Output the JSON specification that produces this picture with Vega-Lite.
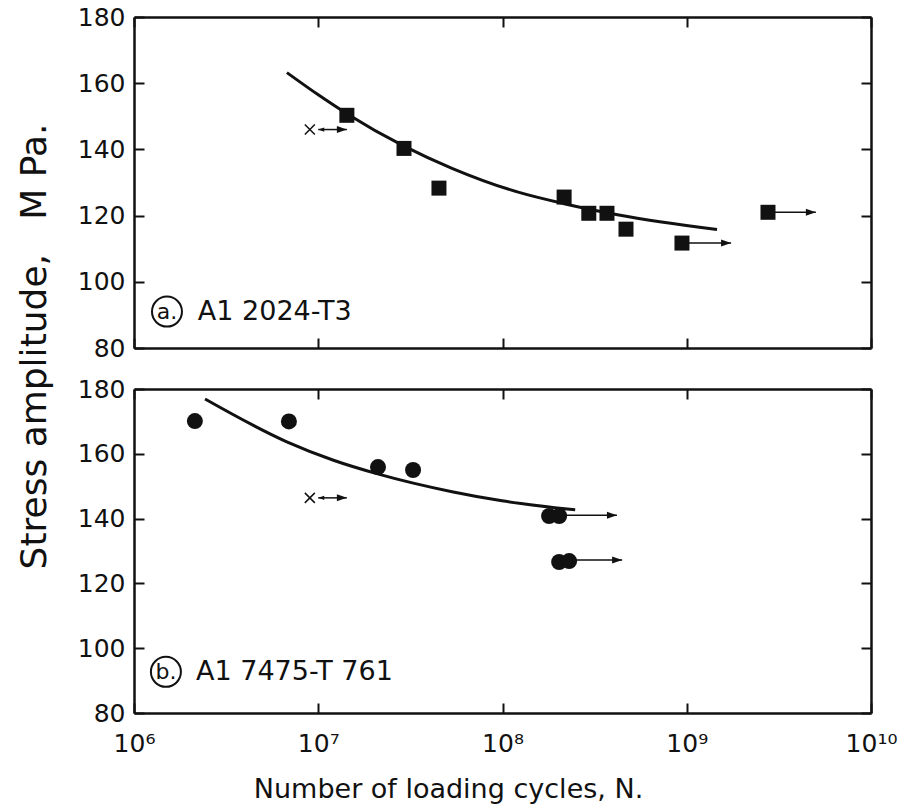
{
  "$schema": "https://vega.github.io/schema/vega-lite/v6.json",
  "padding": {"left": 15, "top": 5, "right": 5, "bottom": 5},
  "bounds": "flush",
  "config": {
    "font": "DejaVu Sans",
    "view": {"stroke": null},
    "axis": {"grid": false, "domainColor": "#111", "domainWidth": 2.5, "tickColor": "#111", "tickWidth": 2, "tickSize": -10, "labelColor": "#111", "labelFontSize": 25, "labelFont": "DejaVu Sans", "labelFlush": false, "labelOverlap": false, "titleColor": "#111", "titleFont": "DejaVu Sans", "titleFontWeight": "normal"}
  },
  "data": {"values": [
    {"panel": "a", "type": "curve", "N": 6760000, "S": 163.2},
    {"panel": "a", "type": "curve", "N": 10000000, "S": 156.5},
    {"panel": "a", "type": "curve", "N": 14300000, "S": 150.8},
    {"panel": "a", "type": "curve", "N": 29200000, "S": 141.0},
    {"panel": "a", "type": "curve", "N": 53200000, "S": 134.3},
    {"panel": "a", "type": "curve", "N": 123000000, "S": 127.0},
    {"panel": "a", "type": "curve", "N": 216000000, "S": 123.6},
    {"panel": "a", "type": "curve", "N": 428000000, "S": 120.2},
    {"panel": "a", "type": "curve", "N": 1460000000, "S": 115.8},
    {"panel": "a", "type": "point", "N": 14300000, "S": 150.3},
    {"panel": "a", "type": "point", "N": 29200000, "S": 140.3},
    {"panel": "a", "type": "point", "N": 45200000, "S": 128.3},
    {"panel": "a", "type": "point", "N": 216000000, "S": 125.6},
    {"panel": "a", "type": "point", "N": 294000000, "S": 120.7},
    {"panel": "a", "type": "point", "N": 369000000, "S": 120.7},
    {"panel": "a", "type": "point", "N": 468000000, "S": 115.9},
    {"panel": "a", "type": "point", "N": 942000000, "S": 111.7},
    {"panel": "a", "type": "point", "N": 2760000000, "S": 121.0},
    {"panel": "a", "type": "arrow", "N": 942000000, "N2": 1740000000, "S": 111.7},
    {"panel": "a", "type": "arrow", "N": 2760000000, "N2": 5020000000, "S": 121.0},
    {"panel": "a", "type": "cross", "N": 9000000, "S": 146.0},
    {"panel": "a", "type": "dbl", "N": 10000000, "N2": 14300000, "S": 146.0},
    {"panel": "a", "type": "circ", "N": 1510000, "S": 91.0, "text": "a."},
    {"panel": "a", "type": "label", "N": 2220000, "S": 91.0, "text": "A1 2024-T3"},
    {"panel": "b", "type": "curve", "N": 2430000, "S": 176.9},
    {"panel": "b", "type": "curve", "N": 6750000, "S": 163.7},
    {"panel": "b", "type": "curve", "N": 12100000, "S": 158.0},
    {"panel": "b", "type": "curve", "N": 21000000, "S": 153.8},
    {"panel": "b", "type": "curve", "N": 53200000, "S": 148.3},
    {"panel": "b", "type": "curve", "N": 99300000, "S": 145.5},
    {"panel": "b", "type": "curve", "N": 248000000, "S": 142.7},
    {"panel": "b", "type": "point", "N": 2140000, "S": 170.1},
    {"panel": "b", "type": "point", "N": 6930000, "S": 170.0},
    {"panel": "b", "type": "point", "N": 21100000, "S": 155.9},
    {"panel": "b", "type": "point", "N": 32700000, "S": 155.0},
    {"panel": "b", "type": "point", "N": 179000000, "S": 140.8},
    {"panel": "b", "type": "point", "N": 203000000, "S": 140.8},
    {"panel": "b", "type": "point", "N": 203000000, "S": 126.6},
    {"panel": "b", "type": "point", "N": 230000000, "S": 126.9},
    {"panel": "b", "type": "arrow", "N": 203000000, "N2": 418000000, "S": 141.0},
    {"panel": "b", "type": "arrow", "N": 230000000, "N2": 446000000, "S": 127.2},
    {"panel": "b", "type": "cross", "N": 9000000, "S": 146.4},
    {"panel": "b", "type": "dbl", "N": 10000000, "N2": 14300000, "S": 146.4},
    {"panel": "b", "type": "circ", "N": 1490000, "S": 92.7, "text": "b."},
    {"panel": "b", "type": "label", "N": 2170000, "S": 92.7, "text": "A1 7475-T 761"}
  ]},
  "spacing": 41,
  "vconcat": [
    {
      "width": 737,
      "height": 331,
      "layer": [
        {
          "transform": [{"filter": "datum.panel === 'a' && datum.type === 'curve'"}],
          "mark": {"type": "line", "color": "#111", "strokeWidth": 3, "interpolate": "monotone"},
          "encoding": {
            "x": {"field": "N", "type": "quantitative", "scale": {"type": "log", "domain": [1000000, 10000000000]}, "axis": {"orient": "bottom", "values": [1000000, 10000000, 100000000, 1000000000, 10000000000], "labels": false, "title": null}},
            "y": {"field": "S", "type": "quantitative", "scale": {"domain": [80, 180], "zero": false, "nice": false}, "axis": {"orient": "left", "values": [80, 100, 120, 140, 160, 180], "labelPadding": 19, "title": null}}
          }
        },
        {
          "transform": [{"filter": "datum.panel === 'a' && (datum.type === 'arrow' || datum.type === 'dbl')"}],
          "mark": {"type": "rule", "color": "#111", "strokeWidth": 1.5},
          "encoding": {
            "x": {"field": "N", "type": "quantitative", "scale": {"type": "log", "domain": [1000000, 10000000000]}, "axis": null},
            "x2": {"field": "N2"},
            "y": {"field": "S", "type": "quantitative", "scale": {"domain": [80, 180], "zero": false, "nice": false}, "axis": null}
          }
        },
        {
          "transform": [{"filter": "datum.panel === 'a' && (datum.type === 'arrow' || datum.type === 'dbl')"}],
          "mark": {"type": "point", "shape": "M 0 0 L -1 -0.35 L -1 0.35 Z", "filled": true, "opacity": 1, "color": "#111", "size": 400},
          "encoding": {
            "x": {"field": "N2", "type": "quantitative", "scale": {"type": "log", "domain": [1000000, 10000000000]}, "axis": null},
            "y": {"field": "S", "type": "quantitative", "scale": {"domain": [80, 180], "zero": false, "nice": false}, "axis": null}
          }
        },
        {
          "transform": [{"filter": "datum.panel === 'a' && datum.type === 'dbl'"}],
          "mark": {"type": "point", "shape": "M 0 0 L 1 -0.35 L 1 0.35 Z", "filled": true, "opacity": 1, "color": "#111", "size": 144},
          "encoding": {
            "x": {"field": "N", "type": "quantitative", "scale": {"type": "log", "domain": [1000000, 10000000000]}, "axis": null},
            "y": {"field": "S", "type": "quantitative", "scale": {"domain": [80, 180], "zero": false, "nice": false}, "axis": null}
          }
        },
        {
          "transform": [{"filter": "datum.panel === 'a' && datum.type === 'point'"}],
          "mark": {"type": "point", "shape": "square", "filled": true, "opacity": 1, "color": "#111", "size": 225},
          "encoding": {
            "x": {"field": "N", "type": "quantitative", "scale": {"type": "log", "domain": [1000000, 10000000000]}, "axis": null},
            "y": {"field": "S", "type": "quantitative", "scale": {"domain": [80, 180], "zero": false, "nice": false}, "axis": null}
          }
        },
        {
          "transform": [{"filter": "datum.panel === 'a' && datum.type === 'cross'"}],
          "mark": {"type": "point", "shape": "M -1 -1 L 1 1 M -1 1 L 1 -1", "filled": false, "opacity": 1, "color": "#111", "strokeWidth": 1.5, "size": 100},
          "encoding": {
            "x": {"field": "N", "type": "quantitative", "scale": {"type": "log", "domain": [1000000, 10000000000]}, "axis": null},
            "y": {"field": "S", "type": "quantitative", "scale": {"domain": [80, 180], "zero": false, "nice": false}, "axis": null}
          }
        },
        {
          "transform": [{"filter": "datum.panel === 'a' && datum.type === 'circ'"}],
          "mark": {"type": "point", "shape": "circle", "filled": false, "opacity": 1, "color": "#111", "strokeWidth": 2, "size": 900},
          "encoding": {
            "x": {"field": "N", "type": "quantitative", "scale": {"type": "log", "domain": [1000000, 10000000000]}, "axis": null},
            "y": {"field": "S", "type": "quantitative", "scale": {"domain": [80, 180], "zero": false, "nice": false}, "axis": null}
          }
        },
        {
          "transform": [{"filter": "datum.panel === 'a' && datum.type === 'circ'"}],
          "mark": {"type": "text", "color": "#111", "fontSize": 22, "align": "center", "baseline": "middle"},
          "encoding": {
            "x": {"field": "N", "type": "quantitative", "scale": {"type": "log", "domain": [1000000, 10000000000]}, "axis": null},
            "y": {"field": "S", "type": "quantitative", "scale": {"domain": [80, 180], "zero": false, "nice": false}, "axis": null},
            "text": {"field": "text"}
          }
        },
        {
          "transform": [{"filter": "datum.panel === 'a' && datum.type === 'label'"}],
          "mark": {"type": "text", "color": "#111", "fontSize": 27, "align": "left", "baseline": "middle"},
          "encoding": {
            "x": {"field": "N", "type": "quantitative", "scale": {"type": "log", "domain": [1000000, 10000000000]}, "axis": {"orient": "top", "values": [1000000, 10000000, 100000000, 1000000000, 10000000000], "labels": false, "title": null}},
            "y": {"field": "S", "type": "quantitative", "scale": {"domain": [80, 180], "zero": false, "nice": false}, "axis": {"orient": "right", "values": [80, 100, 120, 140, 160, 180], "labels": false, "title": null}},
            "text": {"field": "text"}
          }
        }
      ]
    },
    {
      "width": 737,
      "height": 324,
      "layer": [
        {
          "transform": [{"filter": "datum.panel === 'b' && datum.type === 'curve'"}],
          "mark": {"type": "line", "color": "#111", "strokeWidth": 3, "interpolate": "monotone"},
          "encoding": {
            "x": {"field": "N", "type": "quantitative", "scale": {"type": "log", "domain": [1000000, 10000000000]}, "axis": {"orient": "bottom", "values": [1000000, 10000000, 100000000, 1000000000, 10000000000], "labelExpr": "'10' + ['⁶','⁷','⁸','⁹','¹⁰'][round(log(datum.value)/LN10)-6]", "labelPadding": 28, "labelBaseline": "top", "title": "Number of loading cycles, N.", "titleFontSize": 27, "titleX": 314, "titleY": 84, "titleAlign": "center", "titleBaseline": "alphabetic"}},
            "y": {"field": "S", "type": "quantitative", "scale": {"domain": [80, 180], "zero": false, "nice": false}, "axis": {"orient": "left", "values": [80, 100, 120, 140, 160, 180], "labelPadding": 19, "title": "Stress amplitude,\u00a0\u00a0\u00a0M\u00a0Pa.", "titleFontSize": 36, "titleAngle": 270, "titleX": -89, "titleY": -43, "titleAlign": "center", "titleBaseline": "alphabetic"}}
          }
        },
        {
          "transform": [{"filter": "datum.panel === 'b' && (datum.type === 'arrow' || datum.type === 'dbl')"}],
          "mark": {"type": "rule", "color": "#111", "strokeWidth": 1.5},
          "encoding": {
            "x": {"field": "N", "type": "quantitative", "scale": {"type": "log", "domain": [1000000, 10000000000]}, "axis": null},
            "x2": {"field": "N2"},
            "y": {"field": "S", "type": "quantitative", "scale": {"domain": [80, 180], "zero": false, "nice": false}, "axis": null}
          }
        },
        {
          "transform": [{"filter": "datum.panel === 'b' && (datum.type === 'arrow' || datum.type === 'dbl')"}],
          "mark": {"type": "point", "shape": "M 0 0 L -1 -0.35 L -1 0.35 Z", "filled": true, "opacity": 1, "color": "#111", "size": 400},
          "encoding": {
            "x": {"field": "N2", "type": "quantitative", "scale": {"type": "log", "domain": [1000000, 10000000000]}, "axis": null},
            "y": {"field": "S", "type": "quantitative", "scale": {"domain": [80, 180], "zero": false, "nice": false}, "axis": null}
          }
        },
        {
          "transform": [{"filter": "datum.panel === 'b' && datum.type === 'dbl'"}],
          "mark": {"type": "point", "shape": "M 0 0 L 1 -0.35 L 1 0.35 Z", "filled": true, "opacity": 1, "color": "#111", "size": 144},
          "encoding": {
            "x": {"field": "N", "type": "quantitative", "scale": {"type": "log", "domain": [1000000, 10000000000]}, "axis": null},
            "y": {"field": "S", "type": "quantitative", "scale": {"domain": [80, 180], "zero": false, "nice": false}, "axis": null}
          }
        },
        {
          "transform": [{"filter": "datum.panel === 'b' && datum.type === 'point'"}],
          "mark": {"type": "point", "shape": "circle", "filled": true, "opacity": 1, "color": "#111", "size": 256},
          "encoding": {
            "x": {"field": "N", "type": "quantitative", "scale": {"type": "log", "domain": [1000000, 10000000000]}, "axis": null},
            "y": {"field": "S", "type": "quantitative", "scale": {"domain": [80, 180], "zero": false, "nice": false}, "axis": null}
          }
        },
        {
          "transform": [{"filter": "datum.panel === 'b' && datum.type === 'cross'"}],
          "mark": {"type": "point", "shape": "M -1 -1 L 1 1 M -1 1 L 1 -1", "filled": false, "opacity": 1, "color": "#111", "strokeWidth": 1.5, "size": 100},
          "encoding": {
            "x": {"field": "N", "type": "quantitative", "scale": {"type": "log", "domain": [1000000, 10000000000]}, "axis": null},
            "y": {"field": "S", "type": "quantitative", "scale": {"domain": [80, 180], "zero": false, "nice": false}, "axis": null}
          }
        },
        {
          "transform": [{"filter": "datum.panel === 'b' && datum.type === 'circ'"}],
          "mark": {"type": "point", "shape": "circle", "filled": false, "opacity": 1, "color": "#111", "strokeWidth": 2, "size": 900},
          "encoding": {
            "x": {"field": "N", "type": "quantitative", "scale": {"type": "log", "domain": [1000000, 10000000000]}, "axis": null},
            "y": {"field": "S", "type": "quantitative", "scale": {"domain": [80, 180], "zero": false, "nice": false}, "axis": null}
          }
        },
        {
          "transform": [{"filter": "datum.panel === 'b' && datum.type === 'circ'"}],
          "mark": {"type": "text", "color": "#111", "fontSize": 22, "align": "center", "baseline": "middle"},
          "encoding": {
            "x": {"field": "N", "type": "quantitative", "scale": {"type": "log", "domain": [1000000, 10000000000]}, "axis": null},
            "y": {"field": "S", "type": "quantitative", "scale": {"domain": [80, 180], "zero": false, "nice": false}, "axis": null},
            "text": {"field": "text"}
          }
        },
        {
          "transform": [{"filter": "datum.panel === 'b' && datum.type === 'label'"}],
          "mark": {"type": "text", "color": "#111", "fontSize": 27, "align": "left", "baseline": "middle"},
          "encoding": {
            "x": {"field": "N", "type": "quantitative", "scale": {"type": "log", "domain": [1000000, 10000000000]}, "axis": {"orient": "top", "values": [1000000, 10000000, 100000000, 1000000000, 10000000000], "labels": false, "title": null}},
            "y": {"field": "S", "type": "quantitative", "scale": {"domain": [80, 180], "zero": false, "nice": false}, "axis": {"orient": "right", "values": [80, 100, 120, 140, 160, 180], "labels": false, "title": null}},
            "text": {"field": "text"}
          }
        }
      ]
    }
  ]
}
